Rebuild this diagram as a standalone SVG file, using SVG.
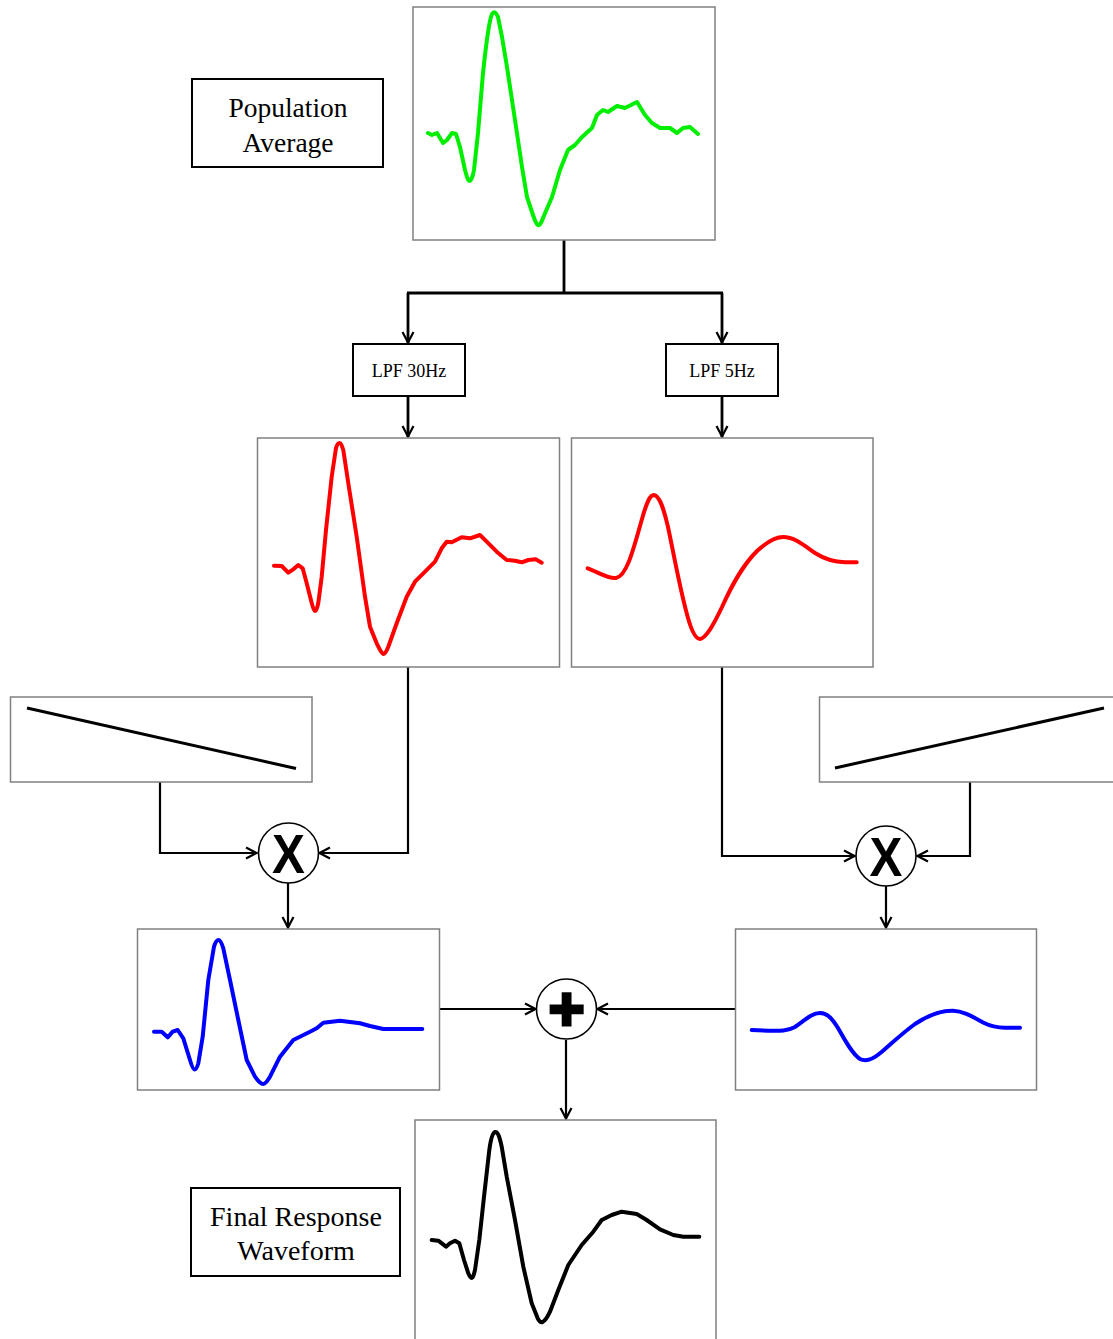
<svg xmlns="http://www.w3.org/2000/svg" width="1113" height="1339" viewBox="0 0 1113 1339">
<style>
.plot{fill:#fff;stroke:#808080;stroke-width:1.5}
.lbl{fill:#fff;stroke:#000;stroke-width:2}
.wave{fill:none;stroke-width:4;stroke-linejoin:round;stroke-linecap:round}
.txt{font-family:"Liberation Serif","Times New Roman",serif;fill:#000;text-anchor:middle}
.con{fill:none;stroke:#000;stroke-width:2.2}
.thick{stroke-width:2.8}
.op{fill:#fff;stroke:#000;stroke-width:1.6}
.sym{font-family:"Liberation Sans",Arial,sans-serif;font-weight:bold;fill:#000;text-anchor:middle}
</style>
<defs>
<marker id="arr" viewBox="0 0 14 14" refX="13" refY="7" markerWidth="14" markerHeight="14" markerUnits="userSpaceOnUse" orient="auto">
<path d="M2,1.5 L12.5,7 L2,12.5" fill="none" stroke="#000" stroke-width="2.2"/>
</marker>
</defs>
<rect width="1113" height="1339" fill="#fff"/>

<g id="connectors">
<path class="con thick" d="M564,240 V293 M407,293 H723"/>
<path class="con thick" d="M408,293 V343" marker-end="url(#arr)"/>
<path class="con thick" d="M722,293 V343" marker-end="url(#arr)"/>
<path class="con thick" d="M408,396 V437" marker-end="url(#arr)"/>
<path class="con thick" d="M722,396 V437" marker-end="url(#arr)"/>
<path class="con" d="M160,782 V853 H257" marker-end="url(#arr)"/>
<path class="con" d="M408,667 V853 H319" marker-end="url(#arr)"/>
<path class="con" d="M288,883 V928" marker-end="url(#arr)"/>
<path class="con" d="M722,667 V856 H855" marker-end="url(#arr)"/>
<path class="con" d="M970,782 V856 H917" marker-end="url(#arr)"/>
<path class="con" d="M886,886 V928" marker-end="url(#arr)"/>
<path class="con" d="M440,1009 H536" marker-end="url(#arr)"/>
<path class="con" d="M735,1009 H597" marker-end="url(#arr)"/>
<path class="con" d="M566,1040 V1119" marker-end="url(#arr)"/>
</g>

<g id="population-label">
<rect class="lbl" x="192" y="79" width="191" height="88"/>
<text class="txt" x="288" y="117" font-size="27.5">Population</text>
<text class="txt" x="288" y="152" font-size="27.5">Average</text>
</g>

<g id="population-plot">
<rect class="plot" x="413" y="7" width="302" height="233"/>
<path class="wave" stroke="#00ee00" d="M428,133 L432,135 L437,133 L443,143 L447,140 L452,133 L456,134 L460,147 L465,170 C467,177 468,181 469.5,181 C471,181 473,176 474,170 L478,133 L483,73 C486,45 489,20 492,14 C494,11 496,12 498,17 L502,37 L507,67 L515,120 L522,167 L527,197 L533,215 C535,221 537,226 539,225 C541,224 542,221 543,218 L552,197 L560,170 L568,150 L575,145 L582,137 L592,128 L597,115 L603,110 L608,112 L617,106 L625,108 L637,102 L645,115 L652,123 L660,128 L670,128 L677,133 L683,128 L690,127 L698,134"/>
</g>

<g id="lpf30">
<rect class="lbl" x="353" y="344" width="112" height="52"/>
<text class="txt" x="409" y="377" font-size="18">LPF 30Hz</text>
</g>
<g id="lpf5">
<rect class="lbl" x="666" y="344" width="112" height="52"/>
<text class="txt" x="722" y="377" font-size="18">LPF 5Hz</text>
</g>

<g id="red30-plot">
<rect class="plot" x="257.5" y="438" width="302" height="229"/>
<path class="wave" stroke="#ff0000" d="M274,565.7 L281.7,566 L288.3,572.7 L293.3,569.3 L298.3,565 L302.7,568.3 L306.7,583.3 L311.7,603 C313,608 314,611 315,611 C316.5,611 317.5,607 318.3,603 L321.7,576.7 L326,530 L331.7,476.7 L336,448 C337,445 338,443 339.5,443 C341,443 342,446 343.3,450 L348.3,483.3 L356.7,536.7 L365,596.7 L370,626.7 L376.7,643.3 C379,648 381,653 383.3,654 C385,654 387,650 388.3,646.7 L396.7,623.3 L406.7,596.7 L415,581.7 L423.3,573.3 L435,561.7 L441.7,548.3 L446.7,541.7 L451.7,542.3 L461.7,537.3 L470,538.3 L480,535 L486.7,541.7 L496.7,551.7 L506.7,560 L515,560.7 L521.7,562.3 L528.3,560 L535.7,559.3 L541.7,562.7"/>
</g>

<g id="red5-plot">
<rect class="plot" x="571.5" y="438" width="301.5" height="229"/>
<path class="wave" stroke="#ff0000" d="M587.7,568.3 C598,572 608,579 616,578 C626,576 632,555 641.7,520 C647,501 650,495 654,495 C660,496 664,510 668,527 C674,555 680,590 688,618 C692,632 696,639 700,639 C706,638 713,626 722,607 C732,585 742,566 757,551 C768,541 776,537 783,537 C795,537 805,546 815,553 C826,560 835,562 845,562.3 L856.7,562.3"/>
</g>

<g id="ramp-down">
<rect class="plot" x="10.5" y="697" width="301.5" height="85"/>
<line x1="27" y1="708" x2="296" y2="768.5" stroke="#000" stroke-width="3"/>
</g>
<g id="ramp-up">
<rect class="plot" x="819.5" y="697" width="300" height="85"/>
<line x1="835" y1="768" x2="1104" y2="708" stroke="#000" stroke-width="3"/>
</g>

<g id="mult-left">
<circle class="op" cx="288.5" cy="853" r="30"/>
<text class="sym" x="288.5" y="873" font-size="56" transform="translate(288.5 0) scale(0.88 1) translate(-288.5 0)">X</text>
</g>
<g id="mult-right">
<circle class="op" cx="886" cy="856" r="30"/>
<text class="sym" x="886" y="876" font-size="56" transform="translate(886 0) scale(0.88 1) translate(-886 0)">X</text>
</g>

<g id="blue30-plot">
<rect class="plot" x="137.5" y="929" width="302" height="161"/>
<path class="wave" stroke="#0000ff" d="M154,1031.7 L161.7,1031.7 L167.7,1037.3 L172.7,1031.7 L177.7,1030 L183.3,1038.3 L190,1060 C191.5,1065 193,1069.5 194.5,1069.5 C196.5,1069.5 197.5,1066 198.3,1063.3 L202.7,1036.7 L208.3,980 L214,946.7 C215.5,942 217,940 218.5,940 C220.5,940 222,944 223.3,948.3 L230,980 L238.3,1020 L246.7,1060 L255,1076.7 C258,1081 260.5,1084 263,1084 C266,1084 268,1080 270,1076.7 L280,1056.7 L293.3,1040 L310,1031.7 L316.7,1028.3 L323.3,1022.7 L340,1020.7 L360,1023.3 L370,1026 L383.3,1029 L422.3,1029"/>
</g>

<g id="blue5-plot">
<rect class="plot" x="735.5" y="929" width="301" height="161"/>
<path class="wave" stroke="#0000ff" d="M751.7,1030 L768,1030.7 C780,1031 788,1031 795,1027 C805,1020 812,1013 820,1013 C828,1013 833,1020 838,1028 C845,1040 852,1054 860,1059 C866,1062 872,1060 880,1053.3 C890,1045 900,1035 915,1024 C930,1014 942,1010.5 953,1010.7 C964,1011 973,1017 983,1022.5 C992,1027 998,1027.7 1005,1027.7 L1020,1027.7"/>
</g>

<g id="sum">
<circle class="op" cx="566.5" cy="1009" r="30"/>
<text class="sym" x="566.5" y="1030" font-size="62" stroke="#000" stroke-width="3">+</text>
</g>

<g id="final-plot">
<rect class="plot" x="415" y="1120" width="301" height="240"/>
<path class="wave" stroke="#000" d="M431.7,1240 L438.3,1240.7 L446,1246.7 L450,1243.3 L455,1240.7 L459.3,1243.3 L464,1260 L468.3,1273.3 C469.5,1276 470.5,1278 471.5,1278 C473,1278 474,1274 475,1270 L479.3,1240 L484,1196.7 L489.3,1150 C490.5,1141 492,1133 495,1132 C498,1131 500,1139 501.7,1146.7 L506.7,1176.7 L515,1220 L523.3,1266.7 L531.7,1303.3 L537.7,1318.3 C539,1321 541,1322.5 542.7,1322 C545,1321 547.5,1317 550,1311.7 L558.3,1290 L568.3,1265 L581.7,1245 L593.3,1231.7 L601.7,1220 L611.7,1215 L621.7,1211.7 L636.7,1214 L646.7,1220 L660,1229.3 L673.3,1235 L683.3,1236.7 L699.3,1236.7"/>
</g>

<g id="final-label">
<rect class="lbl" x="191" y="1188" width="209" height="88"/>
<text class="txt" x="296" y="1226" font-size="28">Final Response</text>
<text class="txt" x="296" y="1260" font-size="28">Waveform</text>
</g>
</svg>
